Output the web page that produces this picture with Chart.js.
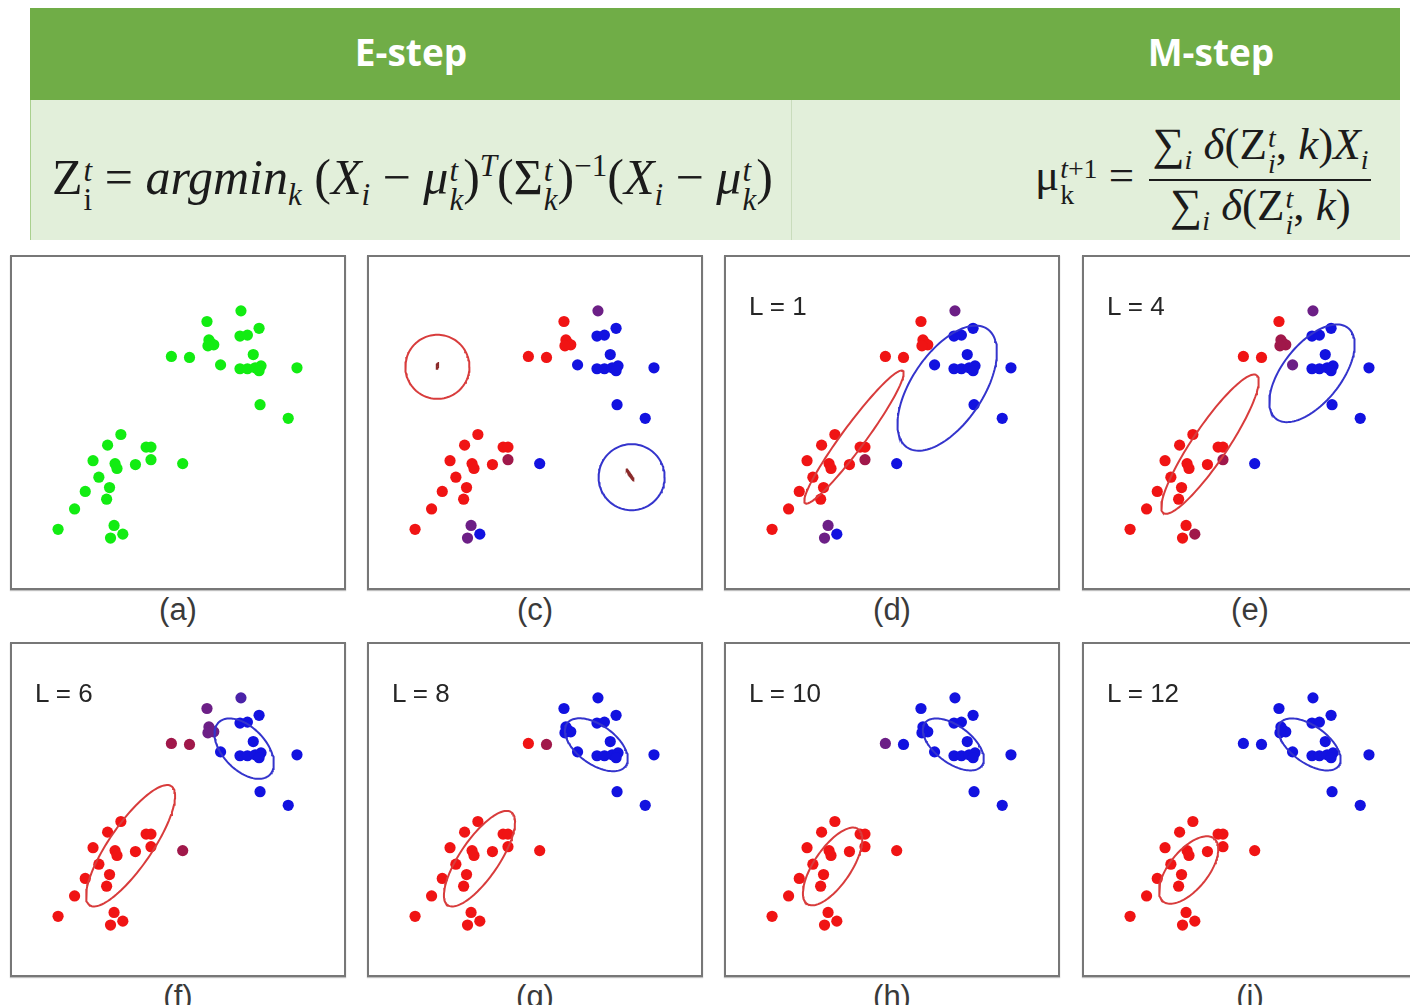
<!DOCTYPE html>
<html>
<head>
<meta charset="utf-8">
<script src="https://cdn.jsdelivr.net/npm/chart.js@4.4.1/dist/chart.umd.min.js"></script>
<style>
  html, body { margin: 0; padding: 0; background: #fff; }
  body { width: 1410px; height: 1005px; position: relative; overflow: hidden; font-family: "Liberation Sans", Arial, sans-serif; }
  .hdr { position: absolute; left: 30px; top: 8px; width: 1370px; height: 92px; background: #70ad47; }
  .hdr span { position: absolute; top: -2px; line-height: 92px; color: #fff; font-family: "Open Sans", sans-serif; font-weight: 700; font-size: 37px; transform: translateX(-50%); }
  .row { position: absolute; left: 30px; top: 100px; width: 1370px; height: 140px; background: #e2efda; border-left: 1px solid #a9d08e; box-sizing: border-box; }
  .divider { position: absolute; left: 760px; top: 0; width: 1px; height: 140px; background: #c9dcbc; }
  .math { position: absolute; font-family: "Liberation Serif", "DejaVu Serif", serif; color: #1b1b1b; white-space: nowrap; }
  .math i { font-style: italic; }
  .ss { display: inline-flex; flex-direction: column; font-size: 0.62em; line-height: 0.92; vertical-align: 0.42em; margin-left: 1px; }
  .math sub, .math sup { font-size: 0.62em; line-height: 0; }
  .frac { display: inline-flex; flex-direction: column; align-items: center; vertical-align: middle; margin-left: 4px; }
  .frac .num { border-bottom: 2px solid #1b1b1b; padding: 0 3px 2px 3px; line-height: 1.0; }
  .frac .den { padding-top: 2px; line-height: 1.0; }
  .panel { position: absolute; border: 2px solid #777; box-sizing: border-box; background: #fff; box-shadow: 0 1px 1px rgba(0,0,0,0.25); }
  .panel canvas { position: absolute; left: 0; top: 0; }
  .step { position: absolute; left: 23px; top: 34px; font-size: 26px; color: #262626; font-family: "Liberation Sans", Arial, sans-serif; }
  .cap { position: absolute; font-size: 31px; color: #3a3a3a; transform: translateX(-50%); }
</style>
</head>
<body>
<div class="hdr"><span style="left:381px">E-step</span><span style="left:1181px">M-step</span></div>
<div class="row"><div class="divider"></div></div>

<div class="math" id="f1" style="left:52px; top:148px; font-size:50px;">Z<span class="ss"><i>t</i><span>i</span></span> = <i>argmin</i><sub><i>k</i></sub> (<i>X</i><sub><i>i</i></sub> − <i>μ</i><span class="ss"><i>t</i><i>k</i></span>)<sup><i>T</i></sup>(Σ<span class="ss"><i>t</i><i>k</i></span>)<sup>−1</sup>(<i>X</i><sub><i>i</i></sub> − <i>μ</i><span class="ss"><i>t</i><i>k</i></span>)</div>

<div class="math" id="f2" style="left:1035px; top:122px; font-size:45px;">μ<span class="ss"><span><i>t</i>+1</span><span>k</span></span> = <span class="frac"><span class="num">∑<sub><i>i</i></sub> <i>δ</i>(Z<span class="ss"><i>t</i><i>i</i></span>, <i>k</i>)<i>X</i><sub><i>i</i></sub></span><span class="den">∑<sub><i>i</i></sub> <i>δ</i>(Z<span class="ss"><i>t</i><i>i</i></span>, <i>k</i>)</span></span></div>

<div id="panels"></div>

<script>
// point positions (same 40 points in every panel), 0..10 units, y up
const pointX = [6.96, 5.91, 5.97, 6.03, 6.12, 5.94, 6.93, 7.16, 7.52, 7.34, 4.81, 5.37, 6.33, 6.93, 7.16, 7.40, 7.58, 7.52, 8.69, 7.55, 8.42,
                3.25, 2.84, 4.03, 4.18, 2.39, 3.07, 3.13, 3.70, 4.18, 5.16, 2.57, 2.90, 2.15, 2.81, 1.82, 1.31, 3.04, 3.31, 2.93];
const pointY = [8.45, 8.12, 7.55, 7.46, 7.40, 7.37, 7.67, 7.70, 7.91, 7.10, 7.04, 7.01, 6.78, 6.66, 6.66, 6.69, 6.75, 6.60, 6.69, 5.55, 5.13,
                4.63, 4.30, 4.24, 4.24, 3.82, 3.73, 3.58, 3.70, 3.85, 3.73, 3.31, 2.99, 2.87, 2.63, 2.33, 1.70, 1.82, 1.55, 1.43];

// panels in order a, c, d, e, f, g, h, i
const captions = ['(a)', '(c)', '(d)', '(e)', '(f)', '(g)', '(h)', '(i)'];
const stepLabels = ['', '', 'L = 1', 'L = 4', 'L = 6', 'L = 8', 'L = 10', 'L = 12'];

// cluster membership per point, one letter per point
const membership = [
  'gggggggggggggggggggggggggggggggggggggggg',
  'prrrrrbbbbrrbbbbbbbbb' + 'rrrrrrrrmbrrrrrrpbp',
  'prrrrrbbbbrrbbbbbbbbb' + 'rrrrrrrrmbrrrrrrpbp',
  'prmmmmbbbbrrpbbbbbbbb' + 'rrrrrrrrmbrrrrrrrmr',
  'vpppppbbbbmmbbbbbbbbb' + 'rrrrrrrrrmrrrrrrrrr',
  'bbbbbbbbbbrmbbbbbbbbb' + 'rrrrrrrrrrrrrrrrrrr',
  'bbbbbbbbbbpbbbbbbbbbb' + 'rrrrrrrrrrrrrrrrrrr',
  'bbbbbbbbbbbbbbbbbbbbb' + 'rrrrrrrrrrrrrrrrrrr'
];

// ellipses: [centre x, centre y, semi-major, semi-minor, angle deg]
const redEllipses = [null, [2.0, 6.72, 0.99, 0.99, 0], [3.84, 4.55, 2.54, 0.36, 53.6], [3.78, 4.33, 2.57, 0.54, 56],
                     [3.55, 3.88, 2.23, 0.66, 55.5], [3.30, 3.48, 1.74, 0.60, 55.7], [3.18, 3.24, 1.40, 0.57, 55.8], [3.12, 3.13, 1.25, 0.60, 51]];
const blueEllipses = [null, [8.0, 3.31, 1.02, 1.02, 0], [6.72, 6.06, 2.21, 1.10, 56], [6.93, 6.52, 1.79, 0.90, 51.5],
                      [7.06, 6.88, 1.13, 0.66, -46], [6.91, 7.00, 1.12, 0.60, -36], [6.91, 7.01, 1.10, 0.57, -37], [6.85, 7.01, 1.12, 0.57, -36]];
// tiny initial covariance marks in panel (c)
const centreMarks = [[2.0, 6.75, 0.10, 0.03, 80], [7.95, 3.40, 0.21, 0.02, -56]];

const dotColors = { g: '#12ec12', r: '#f01414', b: '#1212e0', p: '#6c1f86', m: '#a0184a', v: '#4a22a8' };

const colLeft = [10, 367, 724, 1082];
const rowTop = [255, 642];

function ellipsePts(e) {
    const [cx, cy, a, b, deg] = e;
    const t = deg * Math.PI / 180;
    const pts = [];
    for (let k = 0; k <= 120; k++) {
        const s = k / 120 * 2 * Math.PI;
        pts.push({
            x: cx + a * Math.cos(s) * Math.cos(t) - b * Math.sin(s) * Math.sin(t),
            y: cy + a * Math.cos(s) * Math.sin(t) + b * Math.sin(s) * Math.cos(t)
        });
    }
    return pts;
}

function ellipseSet(e, color, width) {
    return {
        data: ellipsePts(e), showLine: true, borderColor: color, borderWidth: width,
        pointRadius: 0, fill: false, tension: 0, order: 0
    };
}

const host = document.getElementById('panels');
captions.forEach((cap, i) => {
    const left = colLeft[i % 4], top = rowTop[Math.floor(i / 4)];
    const w = 336, h = 335;
    const div = document.createElement('div');
    div.className = 'panel';
    div.style.cssText = `left:${left}px;top:${top}px;width:${w}px;height:${h}px`;
    const cv = document.createElement('canvas');
    cv.width = w - 4; cv.height = h - 4;
    div.appendChild(cv);
    if (stepLabels[i]) {
        const s = document.createElement('div');
        s.className = 'step';
        s.textContent = stepLabels[i];
        div.appendChild(s);
    }
    host.appendChild(div);

    const c = document.createElement('div');
    c.className = 'cap';
    c.style.cssText = `left:${left + w / 2}px;top:${top + h + 2}px`;
    c.textContent = cap;
    host.appendChild(c);

    const datasets = [];
    if (redEllipses[i]) datasets.push(ellipseSet(redEllipses[i], '#d83c3c', 2));
    if (blueEllipses[i]) datasets.push(ellipseSet(blueEllipses[i], '#3434cc', 2));
    if (i === 1) centreMarks.forEach(m => datasets.push(ellipseSet(m, '#8a2a2a', 1.5)));
    datasets.push({
        data: pointX.map((x, k) => ({ x, y: pointY[k] })),
        backgroundColor: membership[i].split('').map(ch => dotColors[ch]),
        borderWidth: 0, pointRadius: 5.6, order: 1
    });

    new Chart(cv.getContext('2d'), {
        type: 'scatter',
        data: { datasets },
        options: {
            responsive: false,
            animation: false,
            layout: { padding: 0 },
            scales: {
                x: { display: false, min: 2 / 33.5, max: (w - 2) / 33.5 },
                y: { display: false, min: (335 - (h - 2)) / 33.5, max: 333 / 33.5 }
            },
            plugins: { legend: { display: false }, tooltip: { enabled: false } }
        }
    });
});
</script>
</body>
</html>
